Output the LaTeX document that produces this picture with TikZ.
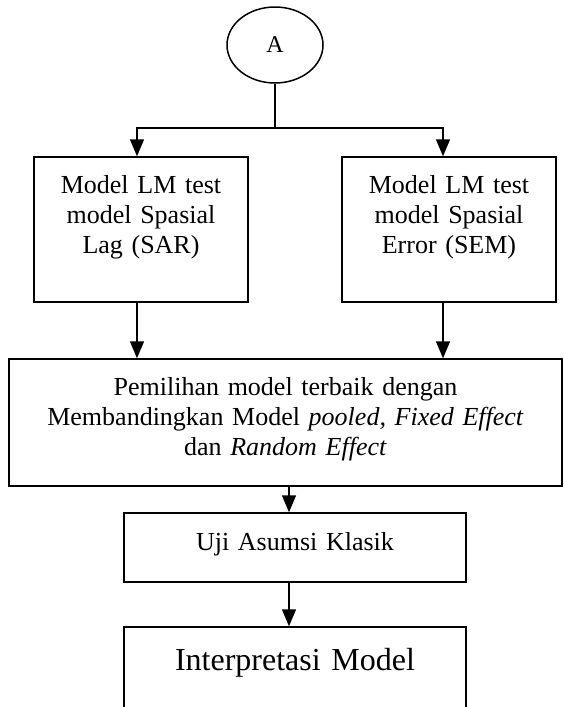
\documentclass[tikz,border=0pt]{standalone}
\usepackage{fontspec}
\setmainfont{Liberation Serif}
\usepackage{tikz}
\usetikzlibrary{arrows.meta}
\usetikzlibrary{calc}
\usetikzlibrary{shapes.geometric}
\newcommand{\txtN}{\fontsize{26}{30}\selectfont}
\newcommand{\txtA}{\fontsize{24}{28}\selectfont}
\newcommand{\txtB}{\fontsize{32}{37}\selectfont}
\tikzset{
   every path/.style={>={Triangle[length=17pt,width=14pt]}},
   ln/.style={line width=1.5pt},
   arr/.style={->,line width=1.5pt},
   proc/.style={rectangle,draw,line width=1.5pt,inner sep=0pt,align=center,font=\txtN},
   term/.style={ellipse,draw,line width=1.5pt,inner sep=0pt,minimum width=96pt,minimum height=76pt,font=\txtA},
}

\begin{document}
\begin{tikzpicture}[x=1pt, y=-1pt]
  \useasboundingbox (0,0) rectangle (563,707);
  \clip (0,0) rectangle (563,707);

  \node[term] (a) at (275, 45) {A};

  \node[proc, text width=214pt, text height=36pt, text depth=109pt] (sar) at (141, 229.5)
    {Model LM test\\ model Spasial\\ Lag (SAR)};
  \node[proc, text width=214pt, text height=36pt, text depth=109pt] (sem) at (449, 229.5)
    {Model LM test\\ model Spasial\\ Error (SEM)};

  \node[proc, text width=553pt, text height=36pt, text depth=91pt] (pilih) at (285.5, 422.5)
    {Pemilihan model terbaik dengan\\ Membandingkan Model \textit{pooled, Fixed Effect}\\ dan \textit{Random Effect}};

  \node[proc, text width=342pt, text height=37pt, text depth=32pt] (uji) at (295, 547.5)
    {Uji Asumsi Klasik};
  \node[proc, text width=342pt, text height=43pt, text depth=50pt, font=\txtB] (interp) at (295, 673.5)
    {Interpretasi Model};

  \coordinate (fork)  at ($(a.south)+(0,44)$);
  \coordinate (sarin) at ($(sar.north)+(-4,0)$);
  \coordinate (semin) at ($(sem.north)+(-6,0)$);
  \coordinate (mid)   at ($(uji.north)+(-6,0)$);

  \draw[ln]  (a.south) -- (fork);
  \draw[arr] (fork) -| (sarin);
  \draw[arr] (fork) -| (semin);
  \draw[arr] (sarin |- sar.south) -- (sarin |- pilih.north);
  \draw[arr] (semin |- sem.south) -- (semin |- pilih.north);
  \draw[arr] (mid |- pilih.south) -- (mid);
  \draw[arr] (mid |- uji.south) -- (mid |- interp.north);
\end{tikzpicture}
\end{document}
